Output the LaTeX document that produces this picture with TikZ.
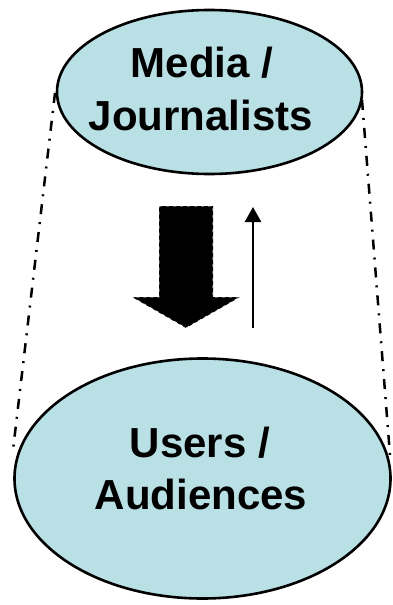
\documentclass[tikz,border=0pt]{standalone}
\usepackage{fontspec}
\setmainfont{Liberation Sans}
\usetikzlibrary{shapes.geometric,arrows.meta}
\definecolor{ellfill}{RGB}{185,224,228}
\tikzset{
  ell/.style={ellipse, draw=black, line width=2.6pt, fill=ellfill, inner sep=0pt, outer sep=0pt},
  lbl/.style={font=\fontsize{42}{52}\selectfont\bfseries, inner sep=0pt, anchor=base},
  dashdotline/.style={line width=2.5pt, dash pattern=on 10pt off 8pt on 2pt off 8pt},
}
\begin{document}
\begin{tikzpicture}[x=1pt,y=1pt]
\useasboundingbox (0,0) rectangle (392,-605);
% dash-dot side lines
\coordinate (lt) at (55,-93);
\coordinate (lb) at (13,-450);
\coordinate (rt) at (362,-100);
\coordinate (rb) at (390,-455);
\draw[dashdotline] (lt) -- (lb);
\draw[dashdotline] (rt) -- (rb);
% ellipses
\node[ell, minimum width=305, minimum height=164] (media) at (209.5,-92) {};
\node[ell, minimum width=376, minimum height=240] (users) at (202.5,-478.5) {};
% labels
\node[lbl] (m1) at (202,-77) {Media /};
\node[lbl] (m2) at (201,-130) {Journalists};
\node[lbl] (u1) at (200,-457) {Users /};
\node[lbl] (u2) at (201,-509) {Audiences};
% big block arrow
\filldraw[fill=black, draw=white, line width=0.6pt, dash pattern=on 3pt off 4pt]
  (159,-206) -- (213,-206) -- (213,-297) -- (240,-297) -- (186,-328)
  -- (132,-297) -- (159,-297) -- cycle;
% thin arrow
\coordinate (ab) at (253,-328);
\coordinate (at) at (253,-207);
\draw[line width=2.5pt, -{Triangle[width=16pt,length=15pt]}] (ab) -- (at);
\end{tikzpicture}
\end{document}
